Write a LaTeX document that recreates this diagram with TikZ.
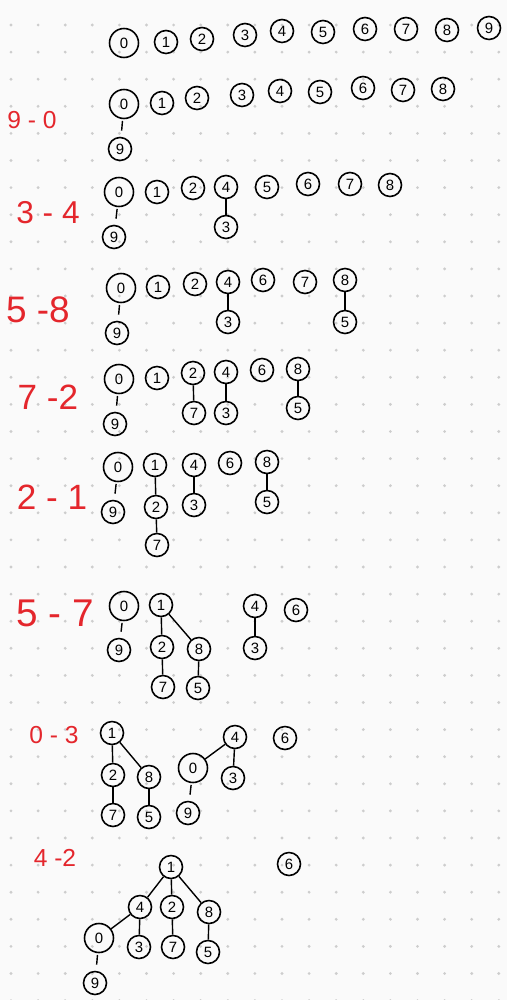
\documentclass[tikz,border=0pt]{standalone}
\usepackage{fontspec}
\setmainfont{Liberation Sans}
\definecolor{penred}{RGB}{228,38,44}
\definecolor{paper}{RGB}{250,250,250}
\definecolor{griddot}{RGB}{205,205,205}
\tikzset{
  vtx/.style={shape=circle,draw=black,line width=0.9pt,minimum size=0.46cm,inner sep=0pt,font=\fontsize{8.5}{8.5}\selectfont},
  vtxbig/.style={vtx,minimum size=0.58cm},
  link/.style={line width=0.8pt},
  stub/.style={link,shorten <=1pt,shorten >=3.5pt},
  steplabel/.style={color=penred,font=\fontsize{#1}{#1}\selectfont}
}
\begin{document}
\begin{tikzpicture}[x=0.02cm,y=-0.02cm]%
                \useasboundingbox (0,0) rectangle (507,1000);
                \fill[paper] (0,0) rectangle (507,1000);
                \foreach \gx in {0,...,18}
                  \foreach \gy in {0,...,36}
                    \fill[griddot] ({11+27.1*\gx},{25+27.1*\gy}) circle (0.9pt);

                % start
                \node[vtxbig] (a0) at (124,43) {0};
                \node[vtx] (a1) at (166,42) {1};
                \node[vtx] (a2) at (202,39) {2};
                \node[vtx] (a3) at (245,35) {3};
                \node[vtx] (a4) at (282,31) {4};
                \node[vtx] (a5) at (323,32) {5};
                \node[vtx] (a6) at (365,29) {6};
                \node[vtx] (a7) at (406,29) {7};
                \node[vtx] (a8) at (447,30) {8};
                \node[vtx] (a9) at (489,28) {9};

                % 9-0
                \node[steplabel=14] (lb) at (32,120) {9 - 0};
                \node[vtxbig] (b0) at (124,104) {0};
                \node[vtx] (b1) at (162,103) {1};
                \node[vtx] (b2) at (197,98) {2};
                \node[vtx] (b3) at (242,95) {3};
                \node[vtx] (b4) at (280,91) {4};
                \node[vtx] (b5) at (320,92) {5};
                \node[vtx] (b6) at (363,88) {6};
                \node[vtx] (b7) at (403,90) {7};
                \node[vtx] (b8) at (443,89) {8};
                \node[vtx] (b9) at (120,149) {9};
                \path [stub] (b0) edge (b9);

                % 3-4
                \node[steplabel=18] (lc) at (48,213) {3 - 4};
                \node[vtxbig] (c0) at (119,192) {0};
                \node[vtx] (c1) at (157,192) {1};
                \node[vtx] (c2) at (193,188) {2};
                \node[vtx] (c4) at (226,187) {4};
                \node[vtx] (c3) at (226,227) {3};
                \node[vtx] (c5) at (267,187) {5};
                \node[vtx] (c6) at (308,184) {6};
                \node[vtx] (c7) at (350,184) {7};
                \node[vtx] (c8) at (390,185) {8};
                \node[vtx] (c9) at (114,237) {9};
                \path [stub] (c0) edge (c9);
                \path [link] (c4) edge (c3);

                % 5-8
                \node[steplabel=21] (ld) at (38,310) {5 -8};
                \node[vtxbig] (d0) at (121,288) {0};
                \node[vtx] (d1) at (158,287) {1};
                \node[vtx] (d2) at (195,284) {2};
                \node[vtx] (d4) at (228,282) {4};
                \node[vtx] (d3) at (228,322) {3};
                \node[vtx] (d6) at (263,280) {6};
                \node[vtx] (d7) at (305,282) {7};
                \node[vtx] (d8) at (345,280) {8};
                \node[vtx] (d5) at (345,322) {5};
                \node[vtx] (d9) at (117,333) {9};
                \path [stub] (d0) edge (d9);
                \path [link] (d4) edge (d3);
                \path [link] (d8) edge (d5);

                % 7-2
                \node[steplabel=20] (le) at (48,397) {7 -2};
                \node[vtxbig] (e0) at (119,379) {0};
                \node[vtx] (e1) at (157,378) {1};
                \node[vtx] (e2) at (193,373) {2};
                \node[vtx] (e4) at (226,372) {4};
                \node[vtx] (e7) at (194,413) {7};
                \node[vtx] (e3) at (226,413) {3};
                \node[vtx] (e6) at (262,370) {6};
                \node[vtx] (e8) at (298,369) {8};
                \node[vtx] (e5) at (298,408) {5};
                \node[vtx] (e9) at (115,424) {9};
                \path [stub] (e0) edge (e9);
                \path [link] (e2) edge (e7);
                \path [link] (e4) edge (e3);
                \path [link] (e8) edge (e5);

                % 2-1
                \node[steplabel=20] (lf) at (52,497) {2 - 1};
                \node[vtxbig] (f0) at (118,467) {0};
                \node[vtx] (f1) at (155,465) {1};
                \node[vtx] (f4) at (194,465) {4};
                \node[vtx] (f6) at (230,463) {6};
                \node[vtx] (f8) at (267,462) {8};
                \node[vtx] (f2) at (156,507) {2};
                \node[vtx] (f3) at (194,505) {3};
                \node[vtx] (f5) at (267,502) {5};
                \node[vtx] (f9) at (113,512) {9};
                \node[vtx] (f7) at (157,545) {7};
                \path [stub] (f0) edge (f9);
                \path [link] (f1) edge (f2);
                \path [link] (f2) edge (f7);
                \path [link] (f4) edge (f3);
                \path [link] (f8) edge (f5);

                % 5-7
                \node[steplabel=22] (lg) at (55,613) {5 - 7};
                \node[vtxbig] (g0) at (124,606) {0};
                \node[vtx] (g1) at (161,605) {1};
                \node[vtx] (g4) at (255,606) {4};
                \node[vtx] (g6) at (296,610) {6};
                \node[vtx] (g2) at (162,647) {2};
                \node[vtx] (g8) at (199,649) {8};
                \node[vtx] (g3) at (255,648) {3};
                \node[vtx] (g9) at (119,650) {9};
                \node[vtx] (g7) at (163,687) {7};
                \node[vtx] (g5) at (198,688) {5};
                \path [stub] (g0) edge (g9);
                \path [link] (g1) edge (g2);
                \path [link] (g1) edge (g8);
                \path [link] (g2) edge (g7);
                \path [link] (g8) edge (g5);
                \path [link] (g4) edge (g3);

                % 0-3
                \node[steplabel=14] (lh) at (54,735) {0 - 3};
                \node[vtx] (h1) at (112,733) {1};
                \node[vtx] (h4) at (235,737) {4};
                \node[vtx] (h6) at (285,738) {6};
                \node[vtx] (h2) at (113,775) {2};
                \node[vtx] (h8) at (149,777) {8};
                \node[vtxbig] (h0) at (193,768) {0};
                \node[vtx] (h3) at (233,778) {3};
                \node[vtx] (h7) at (113,815) {7};
                \node[vtx] (h5) at (149,817) {5};
                \node[vtx] (h9) at (188,813) {9};
                \path [link] (h1) edge (h2);
                \path [link] (h1) edge (h8);
                \path [link] (h4) edge (h0);
                \path [link] (h4) edge (h3);
                \path [link] (h2) edge (h7);
                \path [link] (h8) edge (h5);
                \path [stub] (h0) edge (h9);

                % 4-2
                \node[steplabel=14] (li) at (55,858) {4 -2};
                \node[vtx] (i1) at (171,867) {1};
                \node[vtx] (i6) at (289,864) {6};
                \node[vtx] (i4) at (140,907) {4};
                \node[vtx] (i2) at (172,907) {2};
                \node[vtx] (i8) at (209,912) {8};
                \node[vtxbig] (i0) at (99,938) {0};
                \node[vtx] (i3) at (139,947) {3};
                \node[vtx] (i7) at (173,947) {7};
                \node[vtx] (i5) at (208,952) {5};
                \node[vtx] (i9) at (95,983) {9};
                \path [link] (i1) edge (i4);
                \path [link] (i1) edge (i2);
                \path [link] (i1) edge (i8);
                \path [link] (i4) edge (i0);
                \path [link] (i4) edge (i3);
                \path [link] (i2) edge (i7);
                \path [link] (i8) edge (i5);
                \path [stub] (i0) edge (i9);
            \end{tikzpicture}
\end{document}
